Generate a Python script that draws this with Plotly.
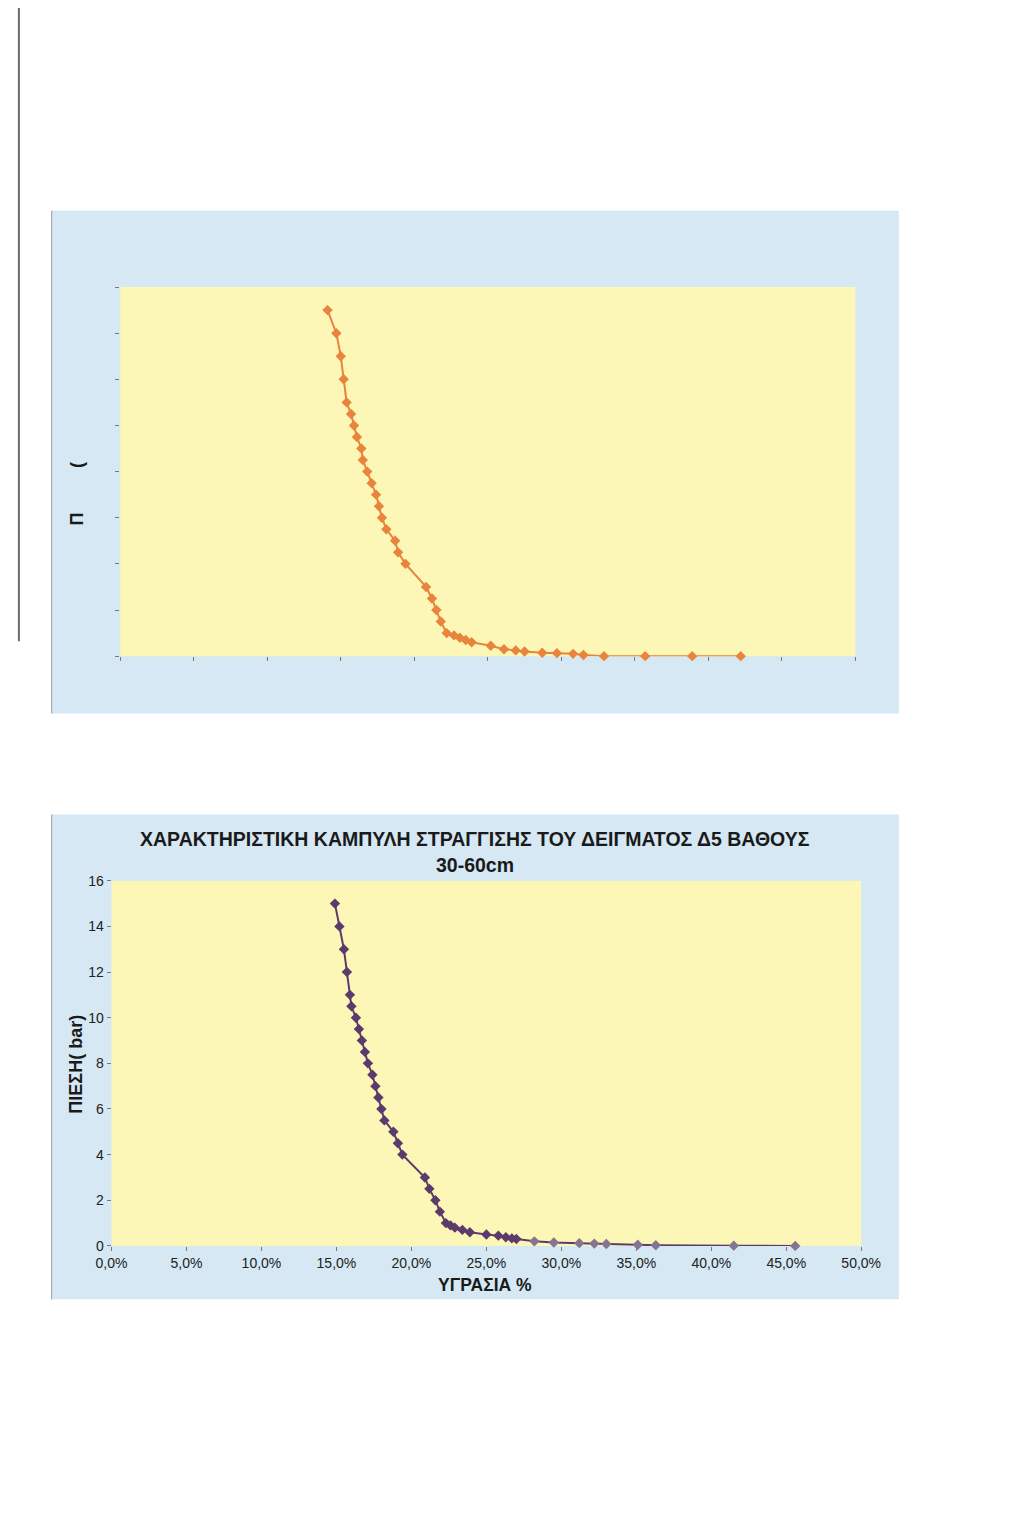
import plotly.graph_objects as go

W, H = 1024, 1528

# ---- data (moisture %, pressure bar) ----
top_moisture = [14.1, 14.7, 15.0, 15.2, 15.4, 15.7, 15.9, 16.1, 16.4, 16.5, 16.8, 17.1, 17.4, 17.6,
                17.8, 18.1, 18.7, 18.9, 19.4, 20.8, 21.2, 21.5, 21.8, 22.2, 22.7, 23.1, 23.5, 23.9,
                25.2, 26.1, 26.9, 27.5, 28.7, 29.7, 30.8, 31.5, 32.9, 35.7, 38.9, 42.2]
top_pressure = [15, 14, 13, 12, 11, 10.5, 10, 9.5, 9, 8.5, 8, 7.5, 7, 6.5,
                6, 5.5, 5, 4.5, 4, 3, 2.5, 2, 1.5, 1, 0.9, 0.8, 0.7, 0.6,
                0.45, 0.3, 0.25, 0.2, 0.15, 0.13, 0.1, 0.05, 0, 0, 0, 0]

bot_moisture = [14.9, 15.2, 15.5, 15.7, 15.9, 16.0, 16.3, 16.5, 16.7, 16.9, 17.1, 17.4, 17.6, 17.8,
                18.0, 18.2, 18.8, 19.1, 19.4, 20.9, 21.2, 21.6, 21.9, 22.3, 22.6, 22.9, 23.4, 23.9,
                25.0, 25.8, 26.3, 26.7, 27.0, 28.2, 29.5, 31.2, 32.2, 33.0, 35.1, 36.3, 41.5, 45.6]
bot_pressure = [15, 14, 13, 12, 11, 10.5, 10, 9.5, 9, 8.5, 8, 7.5, 7, 6.5,
                6, 5.5, 5, 4.5, 4, 3, 2.5, 2, 1.5, 1, 0.9, 0.8, 0.7, 0.6,
                0.5, 0.45, 0.38, 0.33, 0.3, 0.2, 0.15, 0.12, 0.1, 0.08, 0.05, 0.03, 0.01, 0]

y_ticks = [0, 2, 4, 6, 8, 10, 12, 14, 16]
x_ticks = [0, 5, 10, 15, 20, 25, 30, 35, 40, 45, 50]

title_line1 = "ΧΑΡΑΚΤΗΡΙΣΤΙΚΗ ΚΑΜΠΥΛΗ ΣΤΡΑΓΓΙΣΗΣ ΤΟΥ ΔΕΙΓΜΑΤΟΣ Δ5 ΒΑΘΟΥΣ"
title_line2 = "30-60cm"
x_title = "ΥΓΡΑΣΙΑ %"
y_title = "ΠΙΕΣΗ( bar)"

PANEL = "#d5e8f4"
PLOT = "#fcf7b6"
ORANGE = "#e8843c"
PURPLE = "#5c3a6c"
PURPLE_FADED = "#857590"
FONT = "Liberation Sans, Arial, sans-serif"


def px(x):
    return x / W


def py(y):
    return 1 - y / H


# pixel geometry
top_plot = dict(x0=108, x1=870, y0=282, y1=655)
bot_plot = dict(x0=99, x1=876, y0=882, y1=1251)

# the scanned tail of the lower curve is faded
bot_colors = [PURPLE if m < 27.5 else PURPLE_FADED for m in bot_moisture]

fig = go.Figure()
fig.add_trace(go.Scatter(
    x=[v / 100 for v in top_moisture], y=top_pressure, xaxis="x", yaxis="y",
    mode="lines+markers", line=dict(color=ORANGE, width=2),
    marker=dict(symbol="diamond", size=8, color=ORANGE), cliponaxis=False, showlegend=False))
fig.add_trace(go.Scatter(
    x=[v / 100 for v in bot_moisture], y=bot_pressure, xaxis="x2", yaxis="y2",
    mode="lines+markers", line=dict(color=PURPLE, width=2),
    marker=dict(symbol="diamond", size=8, color=bot_colors), cliponaxis=False, showlegend=False))

shapes = []
# panels
for (y0, y1) in [(205, 713), (815, 1305)]:
    shapes.append(dict(type="rect", xref="paper", yref="paper", x0=px(37), x1=px(915),
                       y0=py(y1), y1=py(y0), fillcolor=PANEL, line=dict(width=0), layer="below"))
    shapes.append(dict(type="line", xref="paper", yref="paper", x0=px(37), x1=px(37),
                       y0=py(y1), y1=py(y0), line=dict(color="#9a9a9a", width=1), layer="below"))
for p in (top_plot, bot_plot):
    shapes.append(dict(type="rect", xref="paper", yref="paper", x0=px(p["x0"]), x1=px(p["x1"]),
                       y0=py(p["y1"]), y1=py(p["y0"]), fillcolor=PLOT, line=dict(width=0), layer="below"))
# scan edge
shapes.append(dict(type="line", xref="paper", yref="paper", x0=px(3), x1=px(3), y0=py(640), y1=1,
                   line=dict(color="#6a6a6a", width=2), layer="below"))

axis_common = dict(showgrid=False, zeroline=False, showline=False, ticks="outside",
                   ticklen=4, tickcolor="#777", tickfont=dict(family=FONT, size=14, color="#222"))

TXT = "#1a1a1a"
fig.update_layout(
    width=W, height=H, margin=dict(l=0, r=0, t=0, b=0),
    paper_bgcolor="white", plot_bgcolor="rgba(0,0,0,0)",
    separators=", ",
    shapes=shapes,
    xaxis=dict(domain=[px(top_plot["x0"]), px(top_plot["x1"])], anchor="y", range=[0, 0.5],
               tickvals=[v / 100 for v in x_ticks], showticklabels=False, **axis_common),
    yaxis=dict(domain=[py(top_plot["y1"]), py(top_plot["y0"])], anchor="x", range=[0, 16],
               tickvals=y_ticks, showticklabels=False, **axis_common),
    xaxis2=dict(domain=[px(bot_plot["x0"]), px(bot_plot["x1"])], anchor="y2", range=[0, 0.5],
                tickvals=[v / 100 for v in x_ticks], tickformat=".1%", **axis_common),
    yaxis2=dict(domain=[py(bot_plot["y1"]), py(bot_plot["y0"])], anchor="x2", range=[0, 16],
                tickvals=y_ticks, **axis_common),
    annotations=[
        dict(text="<b>" + title_line1 + "</b>", xref="paper", yref="paper",
             x=px(476), y=py(840), xanchor="center", yanchor="middle", showarrow=False,
             font=dict(family=FONT, size=19.5, color=TXT)),
        dict(text="<b>" + title_line2 + "</b>", xref="paper", yref="paper",
             x=px(476), y=py(866), xanchor="center", yanchor="middle", showarrow=False,
             font=dict(family=FONT, size=19.5, color=TXT)),
        dict(text="<b>" + x_title + "</b>", xref="paper", yref="paper", x=px(486), y=py(1291),
             xanchor="center", yanchor="middle", showarrow=False,
             font=dict(family=FONT, size=17.5, color=TXT)),
        dict(text="<b>" + y_title + "</b>", xref="paper", yref="paper", x=px(62), y=py(1067),
             xanchor="center", yanchor="middle", showarrow=False, textangle=-90,
             font=dict(family=FONT, size=18, color=TXT)),
        # fragments of the faded y title on the upper chart
        dict(text="<b>Π</b>", xref="paper", yref="paper", x=px(63), y=py(516),
             xanchor="center", yanchor="middle", showarrow=False, textangle=-90,
             font=dict(family=FONT, size=18, color=TXT)),
        dict(text="<b>(</b>", xref="paper", yref="paper", x=px(63), y=py(462),
             xanchor="center", yanchor="middle", showarrow=False, textangle=-90,
             font=dict(family=FONT, size=18, color=TXT)),
    ],
)

fig.write_html("out.html")
